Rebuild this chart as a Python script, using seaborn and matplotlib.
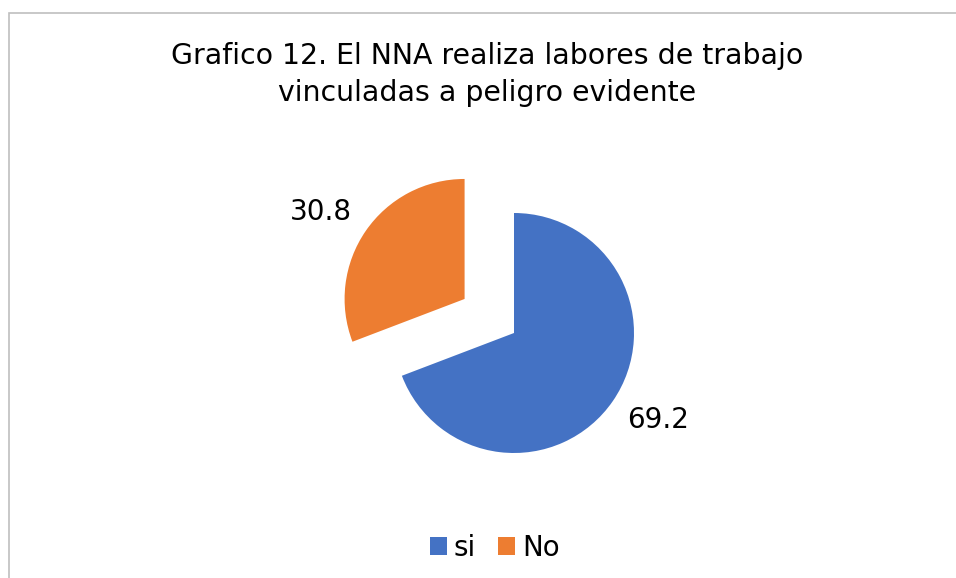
import matplotlib
matplotlib.use("Agg")
import matplotlib.pyplot as plt
import seaborn as sns
import numpy as np
from matplotlib.patches import Rectangle

categories = ["si", "No"]
values = [69.2, 30.8]
colors = ["#4472C4", "#ED7D31"]
title_lines = ["Grafico 12. El NNA realiza labores de trabajo",
               "vinculadas a peligro evidente"]

sns.set_theme(style="white")
plt.rcParams['font.family'] = ['DejaVu Sans']
plt.rcParams['text.color'] = '#000000'

W, H = 956, 578
fig = plt.figure(figsize=(W / 100, H / 100), dpi=100)

# pie axes: center (514,333) px, radius 120 px, limits +-2 units
R = 120
L = 2.0
cx, cy = 514, 333
size = 2 * L * R
ax = fig.add_axes([(cx - L * R) / W, (H - cy - L * R) / H, size / W, size / H])
wedges, texts, autotexts = ax.pie(
    values, colors=colors, startangle=90, counterclock=False,
    explode=[0, 0.5], radius=1.0,
    autopct=lambda p: f"{p:.1f}", pctdistance=1.40,
    textprops=dict(fontsize=20, color="#000000"),
    wedgeprops=dict(linewidth=0),
)
# Excel-like label placement: slightly rotated from the bisector
for w, t in zip(wedges, autotexts):
    ang = np.deg2rad((w.theta1 + w.theta2) / 2 + 3.5)
    wx, wy = w.center
    t.set_position((wx + 1.40 * np.cos(ang), wy + 1.40 * np.sin(ang)))
ax.set_xlim(-L, L)
ax.set_ylim(-L, L)
ax.set_aspect("equal")
ax.axis("off")

for i, line in enumerate(title_lines):
    fig.text(487 / W, 1 - (56 + 37 * i) / H, line, ha="center", va="center",
             fontsize=20.4, color="#000000")

leg = fig.legend(wedges, categories, loc="center", bbox_to_anchor=(495 / W, 1 - 548 / H),
                 ncol=2, frameon=False, fontsize=20, handlelength=0.6, handleheight=0.6,
                 handletextpad=0.25, columnspacing=0.8, labelcolor="#000000")

fig.add_artist(Rectangle((9 / W, -0.1), 1.0, (H - 13) / H + 0.1, transform=fig.transFigure,
                         fill=False, edgecolor="#BFBFBF", linewidth=1.2))

fig.savefig("out.png", dpi=100, facecolor="white")
